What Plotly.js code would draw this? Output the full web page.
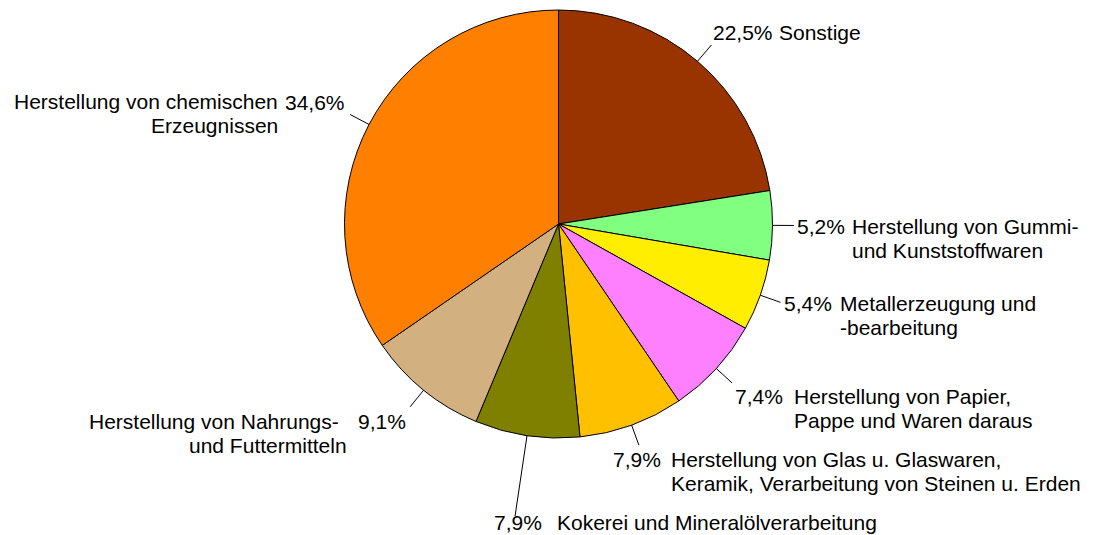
<!DOCTYPE html>
<html>
<head>
<meta charset="utf-8">
<script src="https://cdn.plot.ly/plotly-3.0.1.min.js"></script>
<style>html,body{margin:0;padding:0;background:#fff;}#chart{width:1093px;height:535px;}</style>
</head>
<body>
<div id="chart"></div>
<script>
// ---- data ----
const categories = [
  'Sonstige',
  'Herstellung von Gummi-<br>und Kunststoffwaren',
  'Metallerzeugung und<br>-bearbeitung',
  'Herstellung von Papier,<br>Pappe und Waren daraus',
  'Herstellung von Glas u. Glaswaren,<br>Keramik, Verarbeitung von Steinen u. Erden',
  'Kokerei und Mineralölverarbeitung',
  'Herstellung von Nahrungs-<br>und Futtermitteln',
  'Herstellung von chemischen<br>Erzeugnissen'
];
const values = [22.5, 5.2, 5.4, 7.4, 7.9, 7.9, 9.1, 34.6];
const colors = ['#993300', '#80FF80', '#FFEE00', '#FF80FF', '#FFC000', '#808000', '#D2B080', '#FF8000'];

// ---- label layout (style: leader length factor, offsets in px from leader end) ----
const labelStyle = [
  {f:1.10, pdx:0,     pdy:-13, pa:'left',  ndx:[66],        na:'left',  ndy:-13},
  {f:1.10, pdx:1,     pdy:1.5, pa:'left',  ndx:[56,56],     na:'left',  ndy:1.5},
  {f:1.10, pdx:1.5,   pdy:1,   pa:'left',  ndx:[58,58],     na:'left',  ndy:1},
  {f:1.10, pdx:1.2,   pdy:14,  pa:'left',  ndx:[60,60],     na:'left',  ndy:14},
  {f:1.10, pdx:23.7,  pdy:14,  pa:'right', ndx:[30.3,30.3], na:'left',  ndy:14},
  {f:1.38, pdx:-23.5, pdy:6,   pa:'left',  ndx:[40],        na:'left',  ndy:6},
  {f:1.10, pdx:-1.8,  pdy:15,  pa:'right', ndx:[-69,-61],   na:'right', ndy:15},
  {f:1.10, pdx:-3.5,  pdy:-12, pa:'right', ndx:[-70,-70],   na:'right', ndy:-13}
];

const W = 1093, H = 535;
const CX = 558.5, CY = 224, R = 214;
const LINE_GAP = 24;
const FONT = {family: '"Liberation Sans", Arial, sans-serif', size: 21, color: '#000'};

const px = x => x / W;
const py = y => 1 - y / H;

const total = values.reduce((a, b) => a + b, 0);
const shapes = [];
const annotations = [];
let cum = 0;
values.forEach((v, i) => {
  const mid = (cum + v / 2) / total * 2 * Math.PI; // clockwise from 12 o'clock
  cum += v;
  const s = labelStyle[i];
  const sx = CX + R * Math.sin(mid), sy = CY - R * Math.cos(mid);
  const ex = CX + R * s.f * Math.sin(mid), ey = CY - R * s.f * Math.cos(mid);
  shapes.push({type: 'line', xref: 'paper', yref: 'paper',
    x0: px(sx), y0: py(sy), x1: px(ex), y1: py(ey), line: {color: '#000', width: 1}});
  const pct = v.toFixed(1).replace('.', ',') + '%';
  annotations.push({xref: 'paper', yref: 'paper', x: px(ex + s.pdx), y: py(ey + s.pdy),
    xanchor: s.pa, yanchor: 'middle', text: pct, showarrow: false, font: FONT});
  categories[i].split('<br>').forEach((line, k) => {
    annotations.push({xref: 'paper', yref: 'paper', x: px(ex + s.ndx[k]), y: py(ey + s.ndy + k * LINE_GAP),
      xanchor: s.na, yanchor: 'middle', text: line, showarrow: false, font: FONT});
  });
});

const trace = {
  type: 'pie',
  values: values,
  labels: categories,
  marker: {colors: colors, line: {color: '#000', width: 1}},
  sort: false,
  direction: 'clockwise',
  rotation: 0,
  textinfo: 'none',
  hoverinfo: 'label+percent',
  showlegend: false,
  domain: {x: [(CX - R) / W, (CX + R) / W], y: [1 - (CY + R) / H, 1 - (CY - R) / H]}
};

const layout = {
  width: W, height: H,
  margin: {l: 0, r: 0, t: 0, b: 0},
  paper_bgcolor: '#fff',
  plot_bgcolor: '#fff',
  showlegend: false,
  shapes: shapes,
  annotations: annotations,
  font: FONT
};

Plotly.newPlot('chart', [trace], layout, {displayModeBar: false, staticPlot: true});
</script>
</body>
</html>
